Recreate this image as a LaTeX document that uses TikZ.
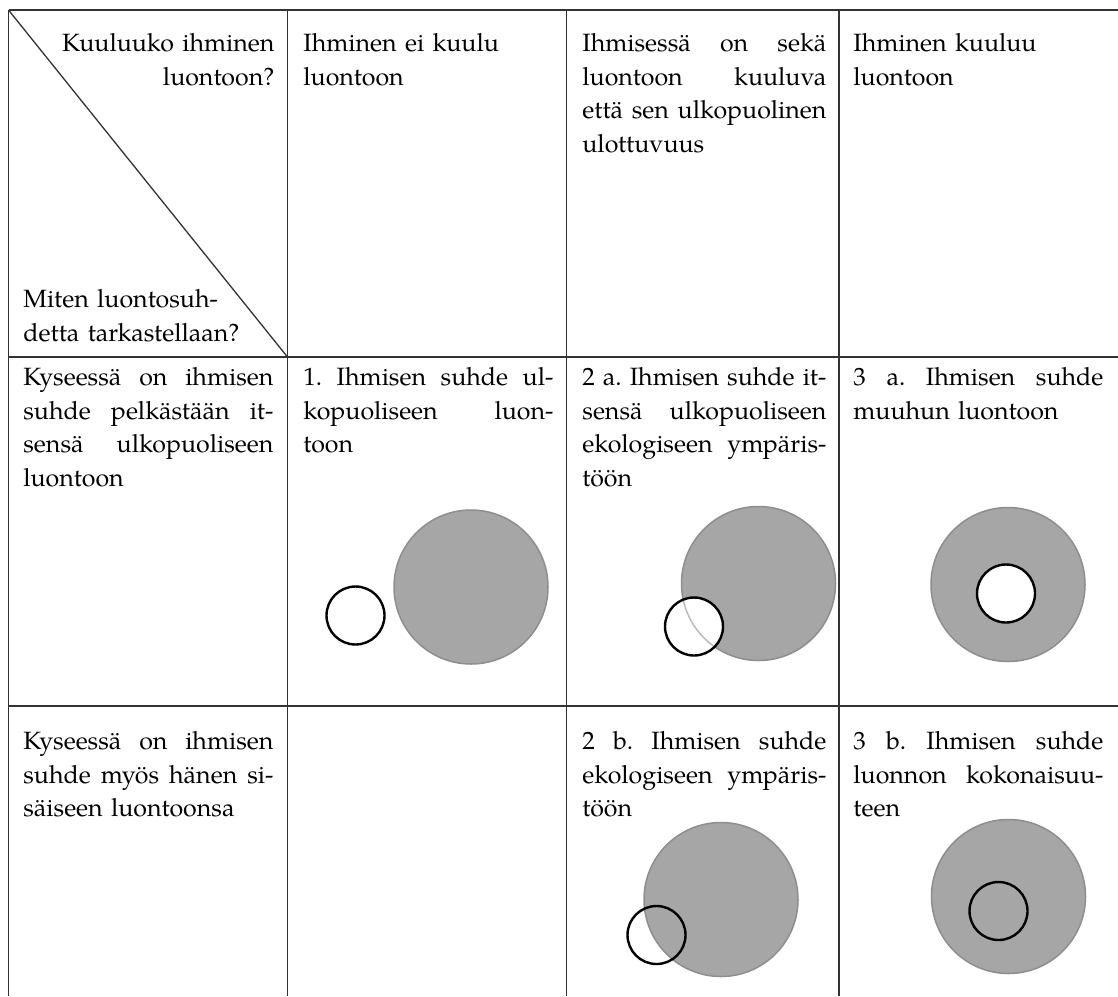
\documentclass[tikz,border=0pt]{standalone}
\usepackage{fontspec}
\setmainfont{texgyrepagella-regular.otf}
\definecolor{gridc}{HTML}{333333}
\definecolor{natfill}{HTML}{A6A6A6}
\definecolor{natline}{HTML}{8E8E8E}
\newcommand\jline[2][125pt]{\makebox[#1][s]{\spaceskip=\fontdimen2\font plus 1fil\relax\xspaceskip=\spaceskip #2}}
\tikzset{
  gridline/.style={draw=gridc, line width=0.65pt},
  celltext/.style={anchor=north west, inner sep=0pt, text width=125pt, align=left,
    font=\fontsize{12.5}{16.8}\selectfont},
  nature/.style={circle, fill=natfill, draw=natline, line width=0.75pt, inner sep=0pt, minimum size=77pt},
  human/.style={circle, draw=black, line width=1.2pt, inner sep=0pt, minimum size=29pt},
}
\begin{document}
\begin{tikzpicture}[x=0.5pt,y=-0.5pt]
\useasboundingbox (0,0) rectangle (1118,996);
% grid coordinates
\coordinate (tl) at (8.5,10);
\coordinate (tr) at (1118,10);
\coordinate (r1l) at (8.5,357);
\coordinate (r1r) at (1118,357);
\coordinate (r2l) at (8.5,706);
\coordinate (r2r) at (1118,706);
\coordinate (c0t) at (8.5,10);   \coordinate (c0b) at (8.5,996);
\coordinate (c1t) at (287.5,10); \coordinate (c1b) at (287.5,996);
\coordinate (c2t) at (566.5,10); \coordinate (c2b) at (566.5,996);
\coordinate (c3t) at (839,10);   \coordinate (c3b) at (839,996);
\coordinate (diagend) at (287.5,357);
\draw[gridline] (tl) -- (tr);
\draw[gridline] (r1l) -- (r1r);
\draw[gridline] (r2l) -- (r2r);
\draw[gridline] (c0t) -- (c0b);
\draw[gridline] (c1t) -- (c1b);
\draw[gridline] (c2t) -- (c2b);
\draw[gridline] (c3t) -- (c3b);
\draw[gridline] (tl) -- (diagend);

% header row
\node[celltext, align=right, text width=126pt] (hq1) at (22,33) {Kuuluuko ihminen\\luontoon?};
\node[celltext] (hq2) at (23,289) {Miten luontosuh-\\detta tarkastellaan?};
\node[celltext] (h2) at (303,33) {Ihminen ei kuulu\\luontoon};
\node[celltext, text width=122pt] (h3) at (582,33) {\jline[122pt]{Ihmisessä on sekä}\\\jline[122pt]{luontoon kuuluva}\\\jline[122pt]{että sen ulkopuolinen}\\ulottuvuus};
\node[celltext] (h4) at (853,33) {Ihminen kuuluu\\luontoon};

% row 2
\node[celltext] (a1) at (23,367) {\jline{Kyseessä on ihmisen}\\\jline{suhde pelkästään it-}\\\jline{sensä ulkopuoliseen}\\luontoon};
\node[celltext] (a2) at (303,367) {\jline{1. Ihmisen suhde ul-}\\\jline{kopuoliseen luon-}\\toon};
\node[celltext, text width=122pt] (a3) at (582,367) {\jline[122pt]{2 a. Ihmisen suhde it-}\\\jline[122pt]{sensä ulkopuoliseen}\\\jline[122pt]{ekologiseen ympäris-}\\töön};
\node[celltext] (a4) at (853,367) {\jline{3 a. Ihmisen suhde}\\muuhun luontoon};

% row 3
\node[celltext] (b1) at (23,731) {\jline{Kyseessä on ihmisen}\\\jline{suhde myös hänen si-}\\säiseen luontoonsa};
\node[celltext, text width=122pt] (b3) at (582,731) {\jline[122pt]{2 b. Ihmisen suhde}\\\jline[122pt]{ekologiseen ympäris-}\\töön};
\node[celltext] (b4) at (853,731) {\jline{3 b. Ihmisen suhde}\\\jline{luonnon kokonaisuu-}\\teen};

% diagram 1
\node[nature] (n1) at (471,587) {};
\node[human] (m1) at (355.5,615.5) {};

% diagram 2a
\node[nature] (n2a) at (758.5,583.5) {};
\node[circle, fill=white, inner sep=0pt, minimum size=29pt] (m2a) at (694,626.5) {};
\begin{scope}
  \clip (m2a.center) circle[radius=14.5pt];
  \draw[draw=natline!60, line width=0.75pt] (n2a.center) circle[radius=38.5pt];
\end{scope}
\draw[black, line width=1.2pt] (m2a.center) circle[radius=14.5pt];

% diagram 3a
\node[nature] (n3a) at (1008,584.5) {};
\node[human, fill=white] (m3a) at (1006,593.5) {};

% diagram 2b
\node[nature] (n2b) at (721,899.5) {};
\node[human] (m2b) at (656.5,935) {};

% diagram 3b
\node[nature] (n3b) at (1008.5,896.5) {};
\node[human] (m3b) at (998.5,911) {};
\end{tikzpicture}
\end{document}
